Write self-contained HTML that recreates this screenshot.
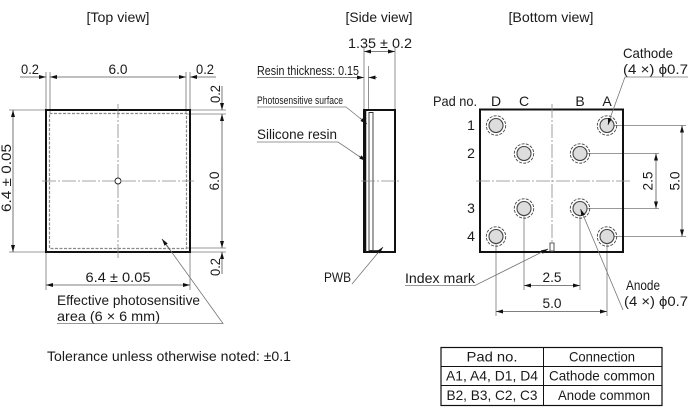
<!DOCTYPE html>
<html>
<head>
<meta charset="utf-8">
<style>
html,body{margin:0;padding:0;background:#fff;}
svg{display:block;}
text{font-family:"Liberation Sans","DejaVu Sans",sans-serif;font-size:14px;fill:#1a1a1a;}
.d{stroke:#777;stroke-width:0.8;fill:none;}
.dm{stroke:#555;stroke-width:0.8;fill:none;marker-start:url(#a);marker-end:url(#a);}
.de{stroke:#555;stroke-width:0.8;fill:none;marker-end:url(#a);}
.c{stroke:#888;stroke-width:0.8;fill:none;stroke-dasharray:14 2 2 2;}
.o{stroke:#111;stroke-width:2;fill:none;}
</style>
</head>
<body>
<svg width="700" height="410" viewBox="0 0 700 410" xmlns="http://www.w3.org/2000/svg">
<defs>
<marker id="a" viewBox="0 0 7 4" refX="7" refY="2" markerWidth="7" markerHeight="4" markerUnits="userSpaceOnUse" orient="auto-start-reverse">
<path d="M0,0 L7,2 L0,4 z" fill="#111"/>
</marker>
</defs>

<!-- ===== TOP VIEW ===== -->
<text x="118" y="22" text-anchor="middle" textLength="63" lengthAdjust="spacingAndGlyphs">[Top view]</text>

<line class="d" x1="46" y1="72" x2="46" y2="110"/>
<line class="d" x1="50" y1="72" x2="50" y2="113"/>
<line class="d" x1="186" y1="72" x2="186" y2="113"/>
<line class="d" x1="190" y1="72" x2="190" y2="110"/>
<line class="de" x1="20" y1="77" x2="46" y2="77"/>
<line class="dm" x1="50" y1="77" x2="186" y2="77"/>
<line class="de" x1="216" y1="77" x2="190" y2="77"/>
<text x="30" y="74" text-anchor="middle" textLength="18" lengthAdjust="spacingAndGlyphs">0.2</text>
<text x="118" y="74" text-anchor="middle" textLength="19" lengthAdjust="spacingAndGlyphs">6.0</text>
<text x="205" y="74" text-anchor="middle" textLength="18" lengthAdjust="spacingAndGlyphs">0.2</text>

<line class="d" x1="190" y1="110" x2="226" y2="110"/>
<line class="d" x1="186" y1="114" x2="226" y2="114"/>
<line class="d" x1="186" y1="248" x2="226" y2="248"/>
<line class="d" x1="190" y1="252" x2="226" y2="252"/>
<line class="de" x1="222" y1="86" x2="222" y2="110"/>
<line class="dm" x1="222" y1="114" x2="222" y2="248"/>
<line class="de" x1="222" y1="274" x2="222" y2="252"/>
<text transform="translate(220,94) rotate(-90)" text-anchor="middle" textLength="18" lengthAdjust="spacingAndGlyphs">0.2</text>
<text transform="translate(219,181) rotate(-90)" text-anchor="middle" textLength="19" lengthAdjust="spacingAndGlyphs">6.0</text>
<text transform="translate(220,267) rotate(-90)" text-anchor="middle" textLength="18" lengthAdjust="spacingAndGlyphs">0.2</text>

<line class="d" x1="9" y1="110" x2="46" y2="110"/>
<line class="d" x1="9" y1="252" x2="46" y2="252"/>
<line class="dm" x1="13" y1="110" x2="13" y2="252"/>
<text transform="translate(11,178) rotate(-90)" text-anchor="middle" textLength="68" lengthAdjust="spacingAndGlyphs">6.4 ± 0.05</text>

<line class="d" x1="46" y1="252" x2="46" y2="290"/>
<line class="d" x1="190" y1="252" x2="190" y2="290"/>
<line class="dm" x1="46" y1="285" x2="190" y2="285"/>
<text x="118" y="282" text-anchor="middle" textLength="65" lengthAdjust="spacingAndGlyphs">6.4 ± 0.05</text>

<rect x="46" y="110" width="144" height="142" class="o"/>
<rect x="49.5" y="113.5" width="137" height="135" fill="none" stroke="#888" stroke-width="1.2" stroke-dasharray="3 1.5"/>
<line class="c" x1="118" y1="104" x2="118" y2="258"/>
<line class="c" x1="42" y1="181" x2="194" y2="181"/>
<circle cx="118" cy="181" r="3" fill="#fff" stroke="#222" stroke-width="0.9"/>

<text x="57" y="305" textLength="143" lengthAdjust="spacingAndGlyphs">Effective photosensitive</text>
<text x="57" y="321" textLength="103" lengthAdjust="spacingAndGlyphs">area (6 × 6 mm)</text>
<polyline class="d" points="57,323.5 223,323.5 163,240"/>
<line class="de" x1="170" y1="250" x2="162" y2="239"/>

<text x="47" y="361" textLength="244" lengthAdjust="spacingAndGlyphs">Tolerance unless otherwise noted: ±0.1</text>

<!-- ===== SIDE VIEW ===== -->
<text x="379" y="22" text-anchor="middle" textLength="67" lengthAdjust="spacingAndGlyphs">[Side view]</text>
<text x="380" y="48" text-anchor="middle" textLength="64" lengthAdjust="spacingAndGlyphs">1.35 ± 0.2</text>
<line class="d" x1="364" y1="46" x2="364" y2="110"/>
<line class="d" x1="368.5" y1="66" x2="368.5" y2="110"/>
<line class="d" x1="395" y1="46" x2="395" y2="110"/>
<line class="dm" x1="364" y1="51.5" x2="395" y2="51.5"/>

<text x="257" y="75" textLength="102" lengthAdjust="spacingAndGlyphs" style="font-size:13px">Resin thickness: 0.15</text>
<line class="de" x1="257" y1="77.5" x2="364" y2="77.5"/>
<line class="de" x1="377" y1="77.5" x2="368.5" y2="77.5"/>

<text x="257" y="104" textLength="86" lengthAdjust="spacingAndGlyphs" style="font-size:11px">Photosensitive surface</text>
<polyline class="d" points="257,107 346,107 366,123"/>
<line class="de" x1="360" y1="118" x2="367" y2="124"/>

<text x="257" y="139" textLength="80" lengthAdjust="spacingAndGlyphs">Silicone resin</text>
<polyline class="d" points="257,142 338,142 366,161"/>
<line class="de" x1="359" y1="156" x2="366" y2="161"/>

<rect x="364" y="110" width="31" height="142" class="o"/>
<line x1="365.5" y1="110" x2="365.5" y2="252" stroke="#111" stroke-width="1.5"/>
<path d="M369,112.5 L373,112.5 L373,250.5 L369,250.5 Z" fill="none" stroke="#333" stroke-width="0.9"/>
<line x1="373" y1="250.5" x2="378" y2="250.5" stroke="#333" stroke-width="0.9"/>
<line class="c" x1="361" y1="181" x2="399" y2="181"/>

<text x="324" y="282" textLength="27" lengthAdjust="spacingAndGlyphs">PWB</text>
<line class="d" x1="352" y1="284" x2="382" y2="248"/>
<line class="de" x1="377" y1="254" x2="383" y2="247"/>

<!-- ===== BOTTOM VIEW ===== -->
<text x="551" y="22" text-anchor="middle" textLength="85" lengthAdjust="spacingAndGlyphs">[Bottom view]</text>

<text x="433" y="106" textLength="44" lengthAdjust="spacingAndGlyphs">Pad no.</text>
<text x="496" y="106" text-anchor="middle">D</text>
<text x="524" y="106" text-anchor="middle">C</text>
<text x="580" y="106" text-anchor="middle">B</text>
<text x="607" y="106" text-anchor="middle">A</text>
<text x="471" y="130" text-anchor="middle">1</text>
<text x="471" y="158" text-anchor="middle">2</text>
<text x="471" y="213" text-anchor="middle">3</text>
<text x="471" y="241" text-anchor="middle">4</text>

<line class="d" x1="607" y1="125.5" x2="686" y2="125.5"/>
<line class="d" x1="580" y1="153.5" x2="659" y2="153.5"/>
<line class="d" x1="580" y1="208.5" x2="659" y2="208.5"/>
<line class="d" x1="607" y1="236.5" x2="686" y2="236.5"/>
<line class="dm" x1="656" y1="153.5" x2="656" y2="208.5"/>
<line class="dm" x1="682" y1="125.5" x2="682" y2="236.5"/>
<text transform="translate(652.5,181) rotate(-90)" text-anchor="middle" textLength="19" lengthAdjust="spacingAndGlyphs">2.5</text>
<text transform="translate(679.5,181) rotate(-90)" text-anchor="middle" textLength="19" lengthAdjust="spacingAndGlyphs">5.0</text>

<line class="d" x1="496" y1="237" x2="496" y2="316"/>
<line class="d" x1="524" y1="209" x2="524" y2="290"/>
<line class="d" x1="580" y1="209" x2="580" y2="290"/>
<line class="d" x1="607" y1="237" x2="607" y2="316"/>
<line class="dm" x1="524" y1="285.5" x2="580" y2="285.5"/>
<line class="dm" x1="496" y1="311.5" x2="607" y2="311.5"/>
<text x="552" y="282" text-anchor="middle" textLength="19" lengthAdjust="spacingAndGlyphs">2.5</text>
<text x="552" y="308" text-anchor="middle" textLength="19" lengthAdjust="spacingAndGlyphs">5.0</text>

<rect x="480" y="109.5" width="143" height="142.5" class="o"/>
<line class="c" x1="552" y1="104" x2="552" y2="252"/>
<line class="c" x1="476" y1="181" x2="630" y2="181"/>

<g>
<g fill="#ddd" stroke="#444" stroke-width="1.1">
<circle cx="496" cy="125.5" r="7"/>
<circle cx="607" cy="125.5" r="7"/>
<circle cx="524" cy="153.5" r="7"/>
<circle cx="580" cy="153.5" r="7"/>
<circle cx="524" cy="208.5" r="7"/>
<circle cx="580" cy="208.5" r="7"/>
<circle cx="496" cy="236.5" r="7"/>
<circle cx="607" cy="236.5" r="7"/>
</g>
<g fill="none" stroke="#444" stroke-width="0.9" stroke-dasharray="3 1.3">
<circle cx="496" cy="125.5" r="9.7"/>
<circle cx="607" cy="125.5" r="9.7"/>
<circle cx="524" cy="153.5" r="9.7"/>
<circle cx="580" cy="153.5" r="9.7"/>
<circle cx="524" cy="208.5" r="9.7"/>
<circle cx="580" cy="208.5" r="9.7"/>
<circle cx="496" cy="236.5" r="9.7"/>
<circle cx="607" cy="236.5" r="9.7"/>
</g>
</g>

<rect x="550" y="243" width="4" height="8" fill="#fff" stroke="#444" stroke-width="0.9"/>
<text x="405" y="283" textLength="70" lengthAdjust="spacingAndGlyphs">Index mark</text>
<polyline class="d" points="405,285.5 475,285.5 548,249"/>
<line class="de" x1="541" y1="252.5" x2="548" y2="249"/>

<text x="623" y="58" textLength="50" lengthAdjust="spacingAndGlyphs">Cathode</text>
<text x="623" y="74" textLength="65" lengthAdjust="spacingAndGlyphs">(4 ×) ϕ0.7</text>
<polyline class="d" points="688,77 625,77 608,124"/>
<line class="de" x1="610" y1="118" x2="608" y2="125"/>

<text x="626" y="290" textLength="34" lengthAdjust="spacingAndGlyphs">Anode</text>
<text x="624" y="306" textLength="64" lengthAdjust="spacingAndGlyphs">(4 ×) ϕ0.7</text>
<line class="d" x1="581" y1="210" x2="623" y2="310"/>
<line class="de" x1="583" y1="215" x2="580.5" y2="209"/>

<g stroke="#111" fill="none">
<rect x="441" y="347.5" width="221" height="58" stroke-width="1.2"/>
<line x1="441" y1="366.5" x2="662" y2="366.5" stroke-width="1"/>
<line x1="441" y1="385.5" x2="662" y2="385.5" stroke-width="1"/>
<line x1="543.5" y1="347.5" x2="543.5" y2="405.5" stroke-width="1"/>
</g>
<text x="492" y="361.5" text-anchor="middle" textLength="51" lengthAdjust="spacingAndGlyphs">Pad no.</text>
<text x="602" y="361.5" text-anchor="middle" textLength="66" lengthAdjust="spacingAndGlyphs">Connection</text>
<text x="492" y="380.5" text-anchor="middle" textLength="92" lengthAdjust="spacingAndGlyphs">A1, A4, D1, D4</text>
<text x="602" y="380.5" text-anchor="middle" textLength="106" lengthAdjust="spacingAndGlyphs">Cathode common</text>
<text x="492" y="400" text-anchor="middle" textLength="91" lengthAdjust="spacingAndGlyphs">B2, B3, C2, C3</text>
<text x="604" y="400" text-anchor="middle" textLength="92" lengthAdjust="spacingAndGlyphs">Anode common</text>
</svg>
</body>
</html>
